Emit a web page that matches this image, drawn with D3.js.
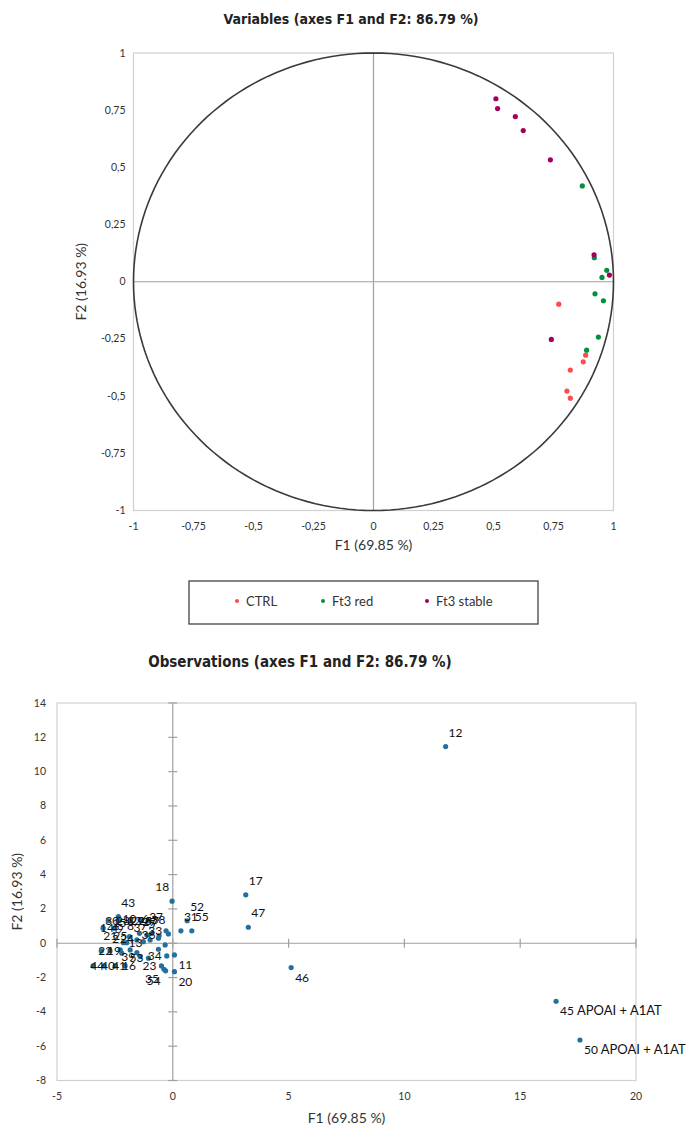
<!DOCTYPE html>
<html><head><meta charset="utf-8">
<script src="https://cdn.jsdelivr.net/npm/d3@7"></script>
<style>body{margin:0;background:#fff}</style>
</head><body><svg id="c" width="696" height="1136"></svg>
<script>
// ---------------- data: variables (correlation circle) ----------------
const varGroups = ["CTRL", "Ft3 red", "Ft3 stable"];
const ctrlF1 = [0.772, 0.884, 0.874, 0.820, 0.806, 0.820];
const ctrlF2 = [-0.098, -0.321, -0.350, -0.386, -0.478, -0.509];
const redF1 = [0.870, 0.920, 0.972, 0.952, 0.923, 0.958, 0.937, 0.888];
const redF2 = [0.419, 0.105, 0.050, 0.019, -0.053, -0.083, -0.242, -0.299];
const stableF1 = [0.510, 0.517, 0.591, 0.624, 0.737, 0.919, 0.983, 0.741];
const stableF2 = [0.800, 0.757, 0.722, 0.661, 0.533, 0.118, 0.029, -0.252];
const varTicks = [-1, -0.75, -0.5, -0.25, 0, 0.25, 0.5, 0.75, 1];

// ---------------- data: observations ----------------
const obsIds = [12, 17, 47, 46, 45, 50, 18, 52, 31, 55, 43,
  30, 28, 32, 26, 57, 14, 4, 13, 22, 19, 44, 40, 41, 16,
  37, 38, 27, 6, 29, 10, 15, 9, 8, 3, 7, 5, 33, 36, 24, 25, 21, 2,
  34, 11, 53, 39, 23, 35, 54, 20];
const obsF1 = [11.78, 3.15, 3.26, 5.11, 16.55, 17.58, -0.03, 0.62, 0.35, 0.82, -2.35,
  -2.79, -2.32, -1.84, -1.37, -1.07, -3.01, -2.53, -2.13, -3.09, -2.71, -3.44, -2.97, -2.49, -2.06,
  -0.29, -0.19, -0.59, -0.91, -1.12, -1.44, -1.87, -1.99, -1.55, -1.27, -0.98, -0.62, -0.33, -0.62, -1.55, -1.84, -2.27, -2.20,
  -0.26, 0.07, -1.05, -1.41, -0.49, -0.38, -0.31, 0.07];
const obsF2 = [11.46, 2.82, 0.93, -1.42, -3.38, -5.64, 2.45, 1.31, 0.72, 0.72, 1.55,
  1.31, 1.31, 1.31, 1.31, 1.31, 0.88, 0.88, 0.03, -0.45, -0.45, -1.32, -1.32, -1.32, -1.32,
  0.72, 0.54, 0.43, 0.58, 0.48, 0.58, 0.38, 0.03, 0.19, 0.09, 0.19, 0.29, -0.10, -0.35, -0.55, -0.39, -0.39, -0.58,
  -0.74, -0.68, -0.87, -0.78, -1.32, -1.52, -1.61, -1.66];
const obsNames = {45: "APOAI + A1AT", 50: "APOAI + A1AT"};
const obsTicksX = [-5, 0, 5, 10, 15, 20];
const obsTicksY = [-8, -6, -4, -2, 0, 2, 4, 6, 8, 10, 12, 14];

// label side for each observation label (layout only)
const labelSide = {46: "br", 45: "br", 50: "br", 11: "br", 20: "br", 18: "ul",
  30: "c", 28: "c", 32: "c", 26: "c", 57: "c", 14: "c", 4: "c", 13: "r", 22: "c", 19: "c",
  44: "c", 40: "c", 41: "c", 16: "c",
  37: "ul", 38: "ul", 27: "ul", 6: "ul", 29: "ul", 10: "ul", 15: "ul", 9: "ul", 8: "ul", 3: "ul",
  7: "ul", 5: "ul", 33: "ul", 36: "ul", 24: "ul", 25: "ul", 21: "ul", 2: "ul",
  34: "l", 53: "l", 39: "l", 23: "l", 35: "bl", 54: "bl"};

// ---------------- styles ----------------
const colors = {"CTRL": "#ff4b4b", "Ft3 red": "#00913a", "Ft3 stable": "#a3005e"};
const ptBlue = "#23709f";
const titleFont = "'Liberation Sans Narrow','DejaVu Sans Condensed','Arial Narrow',sans-serif";
const txtFont = "Lato,'Open Sans',sans-serif";
const fmt = v => String(v).replace(".", ",");

const svg = d3.select("#c");

// ================= chart 1 =================
const x1 = d3.scaleLinear().domain([-1, 1]).range([133.5, 613.5]);
const y1 = d3.scaleLinear().domain([-1, 1]).range([510.5, 53]);

svg.append("text").attr("x", 351).attr("y", 24).attr("text-anchor", "middle")
  .attr("font-family", titleFont).attr("font-weight", "bold").attr("font-size", 14)
  .attr("fill", "#222").text("Variables (axes F1 and F2: 86.79 %)");

svg.append("rect").attr("x", x1(-1)).attr("y", y1(1)).attr("width", x1(1) - x1(-1))
  .attr("height", y1(-1) - y1(1)).attr("fill", "none").attr("stroke", "#d0d0d0").attr("stroke-width", 1.2);
svg.append("line").attr("x1", x1(-1)).attr("x2", x1(1)).attr("y1", y1(0)).attr("y2", y1(0))
  .attr("stroke", "#a0a0a0").attr("stroke-width", 1.2);
svg.append("line").attr("x1", x1(0)).attr("x2", x1(0)).attr("y1", y1(-1)).attr("y2", y1(1))
  .attr("stroke", "#a0a0a0").attr("stroke-width", 1.2);

const ang = d3.range(0, 361, 2).map(a => a * Math.PI / 180);
svg.append("path").datum(ang)
  .attr("d", d3.line().x(a => x1(Math.cos(a))).y(a => y1(Math.sin(a))))
  .attr("fill", "none").attr("stroke", "#3a3a3a").attr("stroke-width", 1.6);

const g1 = svg.append("g");
g1.selectAll(".yt").data(varTicks).enter().append("text")
  .attr("x", x1(-1) - 8).attr("y", d => y1(d) + 3.5).attr("text-anchor", "end")
  .attr("font-family", txtFont).attr("font-size", 10.5).attr("fill", "#333").text(fmt);
g1.selectAll(".xt").data(varTicks).enter().append("text")
  .attr("x", d => x1(d)).attr("y", y1(-1) + 19).attr("text-anchor", "middle")
  .attr("font-family", txtFont).attr("font-size", 10.5).attr("fill", "#333").text(fmt);

svg.append("text").attr("x", x1(0)).attr("y", 550).attr("text-anchor", "middle")
  .attr("font-family", txtFont).attr("font-size", 14).attr("fill", "#333").text("F1 (69.85 %)");
svg.append("text").attr("transform", `translate(86,${y1(0)}) rotate(-90)`).attr("text-anchor", "middle")
  .attr("font-family", txtFont).attr("font-size", 14).attr("fill", "#333").text("F2 (16.93 %)");

const varSets = [[ctrlF1, ctrlF2, "CTRL"], [redF1, redF2, "Ft3 red"], [stableF1, stableF2, "Ft3 stable"]];
varSets.forEach(([fx, fy, grp]) => {
  g1.selectAll(null).data(fx.map((v, i) => [v, fy[i]])).enter().append("circle")
    .attr("cx", d => x1(d[0])).attr("cy", d => y1(d[1])).attr("r", 2.6).attr("fill", colors[grp]);
});

// legend
const leg = svg.append("g");
leg.append("rect").attr("x", 189).attr("y", 581).attr("width", 349).attr("height", 43)
  .attr("fill", "none").attr("stroke", "#444").attr("stroke-width", 1.3);
const legX = [237, 323, 427];
varGroups.forEach((grp, i) => {
  leg.append("circle").attr("cx", legX[i]).attr("cy", 601).attr("r", 2).attr("fill", colors[grp]);
  leg.append("text").attr("x", legX[i] + 9).attr("y", 606).attr("font-family", txtFont)
    .attr("font-size", 13).attr("fill", "#333").text(grp);
});

// ================= chart 2 =================
const x2 = d3.scaleLinear().domain([-5, 20]).range([57, 636]);
const y2 = d3.scaleLinear().domain([-8, 14]).range([1080.5, 703]);

svg.append("text").attr("x", 300).attr("y", 667).attr("text-anchor", "middle")
  .attr("font-family", titleFont).attr("font-weight", "bold").attr("font-size", 15)
  .attr("fill", "#222").text("Observations (axes F1 and F2: 86.79 %)");

svg.append("rect").attr("x", x2(-5)).attr("y", y2(14)).attr("width", x2(20) - x2(-5))
  .attr("height", y2(-8) - y2(14)).attr("fill", "none").attr("stroke", "#d0d0d0").attr("stroke-width", 1.2);
svg.append("line").attr("x1", x2(-5)).attr("x2", x2(20)).attr("y1", y2(0)).attr("y2", y2(0))
  .attr("stroke", "#a0a0a0").attr("stroke-width", 1.2);
svg.append("line").attr("x1", x2(0)).attr("x2", x2(0)).attr("y1", y2(-8)).attr("y2", y2(14))
  .attr("stroke", "#a0a0a0").attr("stroke-width", 1.2);

const g2 = svg.append("g");
g2.selectAll(".tk").data(obsTicksY).enter().append("line")
  .attr("x1", x2(0) - 4.5).attr("x2", x2(0) + 4.5).attr("y1", d => y2(d)).attr("y2", d => y2(d))
  .attr("stroke", "#a0a0a0").attr("stroke-width", 1.2);
g2.selectAll(".tkx").data(obsTicksX).enter().append("line")
  .attr("x1", d => x2(d)).attr("x2", d => x2(d)).attr("y1", y2(0) - 4.5).attr("y2", y2(0) + 4.5)
  .attr("stroke", "#a0a0a0").attr("stroke-width", 1.2);

g2.selectAll(".yt").data(obsTicksY).enter().append("text")
  .attr("x", x2(-5) - 11).attr("y", d => y2(d) + 3.5).attr("text-anchor", "end")
  .attr("font-family", txtFont).attr("font-size", 10.5).attr("fill", "#333").text(fmt);
g2.selectAll(".xt").data(obsTicksX).enter().append("text")
  .attr("x", d => x2(d)).attr("y", y2(-8) + 19).attr("text-anchor", "middle")
  .attr("font-family", txtFont).attr("font-size", 10.5).attr("fill", "#333").text(fmt);

svg.append("text").attr("x", (x2(-5) + x2(20)) / 2).attr("y", 1123).attr("text-anchor", "middle")
  .attr("font-family", txtFont).attr("font-size", 14).attr("fill", "#333").text("F1 (69.85 %)");
svg.append("text").attr("transform", `translate(22,${(y2(-8) + y2(14)) / 2}) rotate(-90)`).attr("text-anchor", "middle")
  .attr("font-family", txtFont).attr("font-size", 14).attr("fill", "#333").text("F2 (16.93 %)");

const obs = obsIds.map((id, i) => ({id, f1: obsF1[i], f2: obsF2[i]}));
g2.selectAll(".pt").data(obs).enter().append("circle")
  .attr("cx", d => x2(d.f1)).attr("cy", d => y2(d.f2)).attr("r", 2.6).attr("fill", ptBlue);

const side = {
  ur: {dx: 3, dy: -10, a: "start"}, br: {dx: 4, dy: 14, a: "start"},
  ul: {dx: -3, dy: -10, a: "end"}, bl: {dx: -5, dy: 14, a: "end"},
  r: {dx: 5, dy: 4, a: "start"}, l: {dx: -5, dy: 4, a: "end"},
  c: {dx: -3, dy: 4, a: "start"}
};
obs.forEach(d => {
  const s = side[labelSide[d.id] || "ur"];
  const t = g2.append("text").attr("x", x2(d.f1) + s.dx).attr("y", y2(d.f2) + s.dy)
    .attr("text-anchor", s.a).attr("font-family", txtFont).attr("font-size", 12).attr("fill", "#111");
  t.append("tspan").text(d.id);
  if (obsNames[d.id]) t.append("tspan").attr("font-size", 13).text(" " + obsNames[d.id]);
});
</script></body></html>
